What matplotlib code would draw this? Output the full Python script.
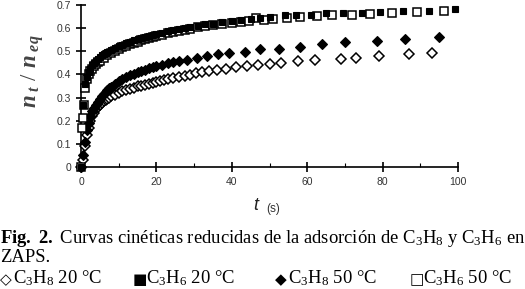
import matplotlib
matplotlib.use("Agg")
import matplotlib.pyplot as plt

plt.rcParams['mathtext.fontset'] = 'custom'
plt.rcParams['mathtext.rm'] = 'Liberation Serif'
plt.rcParams['mathtext.it'] = 'Liberation Serif:italic:bold'
plt.rcParams['mathtext.bf'] = 'Liberation Serif:bold'

# C3H8 20 °C (open diamonds)
t_c3h8_20 = [0, 0.5, 1, 1.5, 2, 2.5, 3, 3.5, 4, 4.5, 5, 5.5, 6, 6.5, 7, 7.5, 8, 9, 10, 11,
             12, 13, 14, 15, 16, 17, 18, 19, 20, 21, 22, 23, 24.5, 26, 27.5, 29, 30.5, 32,
             34, 36, 38.5, 41, 44, 47, 50, 53, 57.5, 62, 69, 73, 79, 87, 93]
n_c3h8_20 = [0, 0.03, 0.09, 0.14, 0.17, 0.2, 0.22, 0.235, 0.25, 0.26, 0.27, 0.278, 0.285,
             0.29, 0.295, 0.30, 0.305, 0.313, 0.32, 0.327, 0.333, 0.338, 0.343, 0.348, 0.352,
             0.356, 0.36, 0.364, 0.368, 0.372, 0.376, 0.379, 0.383, 0.388, 0.393, 0.398,
             0.405, 0.41, 0.415, 0.419, 0.425, 0.43, 0.435, 0.44, 0.446, 0.451, 0.458, 0.462,
             0.467, 0.47, 0.48, 0.487, 0.494]

# C3H8 50 °C (filled diamonds)
t_c3h8_50 = [0, 0.5, 1, 1.5, 2, 2.5, 3, 3.5, 4, 4.5, 5, 5.5, 6, 6.5, 7, 7.5, 8, 9, 10, 11,
             12, 13, 14, 15, 16, 17, 18, 19, 20, 21.4, 23.2, 24.5, 26, 28, 30.7, 33.3, 36.4,
             39.3, 43.5, 47.5, 52.5, 58, 64, 70, 78.5, 86, 95]
n_c3h8_50 = [0, 0.05, 0.11, 0.16, 0.19, 0.22, 0.24, 0.255, 0.27, 0.282, 0.295, 0.305, 0.315,
             0.323, 0.332, 0.34, 0.346, 0.358, 0.37, 0.38, 0.388, 0.396, 0.403, 0.409, 0.415,
             0.421, 0.426, 0.431, 0.436, 0.441, 0.448, 0.455, 0.458, 0.462, 0.47, 0.48, 0.488,
             0.494, 0.498, 0.508, 0.51, 0.52, 0.53, 0.539, 0.546, 0.552, 0.563]

# C3H6 20 °C (filled squares)
t_c3h6_20 = [0, 0.5, 1, 1.5, 2, 2.5, 3, 3.5, 4, 4.5, 5, 5.5, 6, 6.5, 7, 8, 9, 10, 11, 12, 13,
             14, 15, 16, 17, 18, 19, 20, 21.5, 23, 24.5, 26, 27.5, 29, 31, 33, 35, 37.5, 40,
             42.5, 45, 47.5, 50, 54, 57, 61, 65, 69.5, 74.5, 79.3, 85.3, 92.3, 99.2]
n_c3h6_20 = [0, 0.27, 0.36, 0.39, 0.41, 0.425, 0.44, 0.45, 0.46, 0.468, 0.475, 0.482, 0.488,
             0.493, 0.498, 0.507, 0.515, 0.522, 0.529, 0.535, 0.541, 0.547, 0.552, 0.557,
             0.562, 0.566, 0.57, 0.575, 0.58, 0.586, 0.592, 0.597, 0.601, 0.606, 0.611, 0.616,
             0.62, 0.625, 0.63, 0.636, 0.64, 0.645, 0.65, 0.657, 0.657, 0.657, 0.664, 0.667,
             0.667, 0.671, 0.675, 0.675, 0.681]

# C3H6 50 °C (open squares)
t_c3h6_50 = [0, 0.3, 0.5, 0.7, 1, 1.5, 2, 2.5, 3, 3.5, 4, 4.5, 5, 6, 7, 8, 9, 10, 11, 12, 13,
             14, 15, 16, 17, 18, 19, 20, 21.5, 23, 24.5, 26, 27.5, 29, 31, 33, 35, 37.5, 40,
             42.5, 44.5, 46.4, 48.5, 51, 54.6, 58.1, 62.5, 66.5, 71.8, 76.7, 82.6, 89, 96.4]
n_c3h6_50 = [0, 0.17, 0.21, 0.27, 0.34, 0.38, 0.40, 0.415, 0.425, 0.435, 0.445, 0.452, 0.46,
             0.472, 0.483, 0.493, 0.502, 0.51, 0.517, 0.524, 0.53, 0.536, 0.542, 0.547, 0.552,
             0.557, 0.561, 0.566, 0.572, 0.578, 0.584, 0.589, 0.594, 0.598, 0.603, 0.608,
             0.612, 0.617, 0.622, 0.627, 0.632, 0.642, 0.637, 0.638, 0.642, 0.647, 0.654,
             0.657, 0.657, 0.661, 0.667, 0.671, 0.675]

x_ticks = [0, 20, 40, 60, 80, 100]
y_ticks = [0, 0.1, 0.2, 0.3, 0.4, 0.5, 0.6, 0.7]
y_ticklabels = ['0', '0.1', '0.2', '0.3', '0.4', '0.5', '0.6', '0.7']

legend_symbols = ['◇', '■', '◆', '□']
legend_labels = ['C$_3$H$_8$ 20 °C', 'C$_3$H$_6$ 20 °C', 'C$_3$H$_8$ 50 °C', 'C$_3$H$_6$ 50 °C']

fig = plt.figure(figsize=(5.25, 2.89), dpi=100)
ax = fig.add_axes([0.1543, 0.4221, 0.7181, 0.5606])

ax.plot(t_c3h8_20, n_c3h8_20, linestyle='none', marker='D', ms=4.8, mfc='white', mec='black', mew=1.1, clip_on=False, zorder=3)
ax.plot(t_c3h8_50, n_c3h8_50, linestyle='none', marker='D', ms=5.2, mfc='black', mec='black', mew=0.8, clip_on=False, zorder=3)
ax.plot(t_c3h6_50, n_c3h6_50, linestyle='none', marker='s', ms=5.4, mfc='white', mec='black', mew=1.1, clip_on=False, zorder=3)
ax.plot(t_c3h6_20, n_c3h6_20, linestyle='none', marker='s', ms=4.4, mfc='black', mec='black', mew=0.8, clip_on=False, zorder=4)

ax.set_xlim(0, 100)
ax.set_ylim(0, 0.7)
ax.spines['top'].set_visible(False)
ax.spines['right'].set_visible(False)
for s in ('left', 'bottom'):
    ax.spines[s].set_linewidth(1.2)
ax.set_xticks(x_ticks)
ax.set_xticks([10, 30, 50, 70, 90], minor=True)
ax.set_yticks(y_ticks)
ax.set_yticklabels(y_ticklabels)
ax.tick_params(axis='both', which='major', direction='inout', length=7, width=1.2,
               labelsize=7.5, labelcolor='#333333', labelfontfamily='Liberation Sans')
ax.tick_params(axis='x', which='major', pad=4)
ax.tick_params(axis='x', which='minor', direction='in', length=3, width=0.8)

# y label
fig.text(0.062, 0.755, r'$n_{\ t}\ /\ n_{\ eq}$', rotation=90, ha='center', va='center',
         fontsize=16.5, color='#444444')
# x label
fig.text(0.482, 0.273, 't', fontsize=13, style='italic',
         family='Liberation Sans', color='#222222', ha='left', va='baseline')
fig.text(0.507, 0.266, '(s)', fontsize=8.5, family='Liberation Sans', color='#333333',
         ha='left', va='baseline')

cap_font = ['Liberation Serif', 'DejaVu Sans']
cap_size = 13.4
fig.text(0.0, 0.159, r'$\mathbf{Fig.\ 2.}$ Curvas cinéticas reducidas de la adsorción de C$_3$H$_8$ y C$_3$H$_6$ en',
         family=cap_font, fontsize=cap_size, ha='left', va='baseline')
fig.text(0.0, 0.093, 'ZAPS.', family=cap_font, fontsize=cap_size, ha='left', va='baseline')
legend_x = [0.0, 0.253, 0.523, 0.780]
for lx, sym, lab in zip(legend_x, legend_symbols, legend_labels):
    fig.text(lx, 0.018, sym, family='DejaVu Sans', fontsize=11, ha='left', va='baseline')
    fig.text(lx + 0.025, 0.018, lab, family=cap_font, fontsize=cap_size, ha='left', va='baseline')

fig.savefig('out.png', dpi=100)
